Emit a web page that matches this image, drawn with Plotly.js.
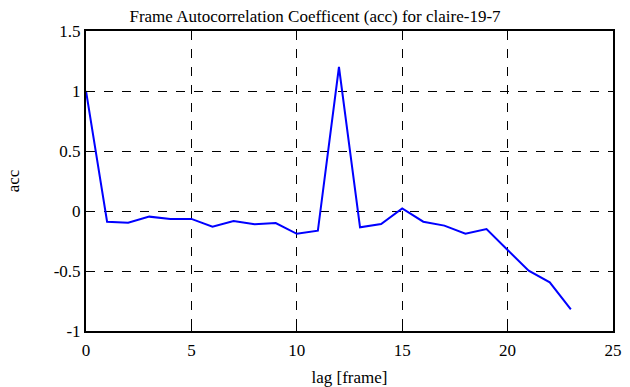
<!DOCTYPE html>
<html><head><meta charset="utf-8">
<script src="https://cdn.plot.ly/plotly-3.0.1.min.js"></script>
<style>html,body{margin:0;padding:0;background:#fff}</style>
</head><body>
<div id="chart" style="width:630px;height:387px"></div>
<script>
const lag = [0,1,2,3,4,5,6,7,8,9,10,11,12,13,14,15,16,17,18,19,20,21,22,23];
const acc = [1.0,-0.089,-0.097,-0.047,-0.066,-0.066,-0.13,-0.083,-0.11,-0.10,-0.19,-0.164,1.2,-0.136,-0.108,0.022,-0.089,-0.122,-0.19,-0.15,-0.325,-0.497,-0.594,-0.82];
const xTicks = [0,5,10,15,20,25];
const yTicks = [-1,-0.5,0,0.5,1,1.5];
const yTickText = ['-1','-0.5','0','0.5','1','1.5'];
const font = 'Liberation Serif, Times New Roman, serif';
Plotly.newPlot('chart', [{
  x: lag, y: acc, type: 'scatter', mode: 'lines',
  line: {color: '#0000ff', width: 2}
}], {
  width: 630, height: 387,
  margin: {l: 86, r: 17, t: 31, b: 56},
  paper_bgcolor: '#fff', plot_bgcolor: '#fff',
  showlegend: false,
  title: {text: 'Frame Autocorrelation Coefficent (acc) for claire-19-7', font: {family: font, size: 17, color: '#000'}, x: 0.5, xanchor: 'center', y: 0.975, yanchor: 'top'},
  xaxis: {range: [0, 25], tickvals: xTicks, ticktext: xTicks.map(String), ticks: 'inside', ticklen: 5, tickcolor: '#000', tickwidth: 1,
    showline: true, linecolor: '#000', linewidth: 2, mirror: 'ticks', showgrid: true, gridcolor: '#000', griddash: 'dash', gridwidth: 1, zeroline: false,
    tickfont: {family: font, size: 17, color: '#000'}, ticklabelstandoff: 3,
    title: {text: 'lag [frame]', font: {family: font, size: 17, color: '#000'}, standoff: 14}},
  yaxis: {range: [-1, 1.5], tickvals: yTicks, ticktext: yTickText, ticks: 'inside', ticklen: 5, tickcolor: '#000', tickwidth: 1,
    showline: true, linecolor: '#000', linewidth: 2, mirror: 'ticks', showgrid: true, gridcolor: '#000', griddash: 'dash', gridwidth: 1, zeroline: false,
    tickfont: {family: font, size: 17, color: '#000'},
    title: {text: 'acc', font: {family: font, size: 17, color: '#000'}, standoff: 30}}
}, {displayModeBar: false, staticPlot: true});
</script>
</body></html>
